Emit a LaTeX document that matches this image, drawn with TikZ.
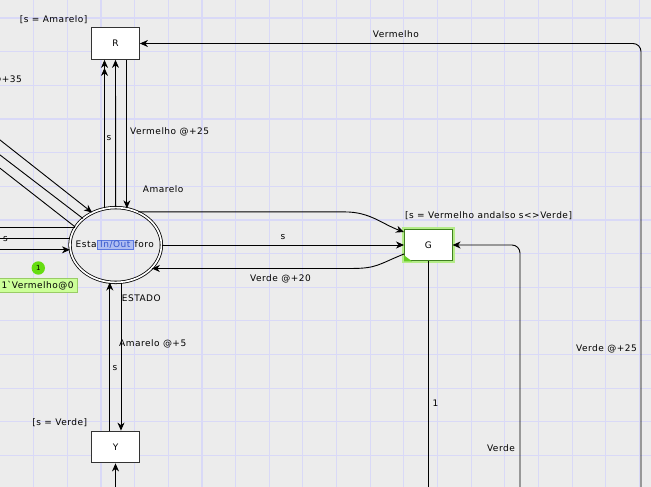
\documentclass[tikz,border=0pt]{standalone}
\usepackage{fontspec}
\setmainfont{DejaVu Sans}[LetterSpace=5.5]
\usetikzlibrary{arrows.meta,shapes.geometric}
\definecolor{bgc}{HTML}{ECECEC}
\definecolor{gridc}{HTML}{D9D9F7}
\definecolor{iofill}{HTML}{AEBDF2}
\definecolor{ioborder}{HTML}{5A78E0}
\definecolor{iotext}{HTML}{3355CC}
\definecolor{tokgreen}{HTML}{66DD11}
\definecolor{markfill}{HTML}{CCFF99}
\definecolor{markborder}{HTML}{99CC66}
\definecolor{gglow}{HTML}{B4EC88}
\definecolor{gdark}{HTML}{3F7F1F}
\definecolor{gcorner}{HTML}{66CC22}
\begin{document}
\begin{tikzpicture}[x=1pt,y=-1pt,font=\fontsize{9}{11}\selectfont,
  trans/.style={draw=black!80,line width=1.2pt,fill=white,minimum width=47.6pt,minimum height=31.6pt,inner sep=0pt},
  place/.style={ellipse,draw=black,line width=0.8pt,double=white,double distance=1.7pt,minimum width=91.4pt,minimum height=74.8pt,inner sep=0pt},
  arc/.style={draw=black,line width=0.9pt},
  arr/.style={-{Stealth[length=8pt,width=7pt,inset=2.5pt]}},
  arrr/.style={-{Stealth[length=8pt,width=7pt,inset=2.5pt]Stealth[length=8pt,width=7pt,inset=2.5pt]}},
  lbl/.style={inner sep=0pt},
  iotag/.style={fill=iofill,draw=ioborder,text=iotext,line width=0.6pt,minimum width=36pt,minimum height=8.6pt,inner sep=0pt},
  gridline/.style={draw=gridc,line width=1.1pt}]
\useasboundingbox (0,0) rectangle (651,487);
\clip (0,0) rectangle (651,487);
\fill[bgc] (0,0) rectangle (651,487);
\foreach \i in {1,...,19} \draw[gridline] (\i*33.66,0) -- (\i*33.66,487);
\foreach \j in {0,...,14} \draw[gridline] (0,18+\j*33.66) -- (651,18+\j*33.66);

% nodes
\node[trans] (R) at (115.5,43.5) {R};
\node[trans] (Y) at (115.5,447) {Y};
\node[trans,draw=gdark,line width=1pt,preaction={draw=gglow,line width=5pt}] (G) at (428.3,245) {G};
\fill[gcorner] (G.south west) -- ++(8,0) -- ++(-8,-6) -- cycle;
\node[place] (E) at (115.7,245) {};
\node[lbl,anchor=base east] (E1) at (96.8,247.7) {Esta};
\node[iotag] (E2) at (115.3,245) {In/Out};
\node[lbl,anchor=base west] (E3) at (134.5,247.7) {foro};

% free ends
\coordinate (L) at (-10,0);
\coordinate (la) at (-10,132.1);
\coordinate (lb) at (-10,147.3);
\coordinate (lc) at (-10,160.4);
\coordinate (rb) at (641,500);
\coordinate (gb) at (428.3,500);
\coordinate (gr) at (520,500);
\coordinate (yb) at (115.5,500);
\coordinate (c1) at (345,0);
\coordinate (c2) at (352,0);

% R arcs
\draw[arc,arrr] (E.107.5) -- (E.107.5 |- R.south);
\draw[arc,arr] (E.north) -- (R.south);
\draw[arc,arr] (E.73 |- R.south) -- (E.73);
\draw[arc,arr,rounded corners=8pt] (rb) |- (R.east);

% G arcs
\draw[arc,arr] (E.east) -- (G.west);
\draw[arc,arr] (E.56.6) -- (E.56.6 -| c1) .. controls +(25,0) and +(-22,-8) .. ([yshift=13pt]G.west);
\draw[arc,arr] ([yshift=-9pt]G.west) .. controls +(-25,10) and +(25,0) .. (E.327.6 -| c2) -- (E.327.6);
\draw[arc] (G.south) -- (G.south |- gb);
\draw[arc,arr,rounded corners=8pt] (gr) |- (G.east);

% Y arcs
\draw[arc,arr] (yb) -- (Y.south);
\draw[arc,arr] (E.261.4 |- Y.north) -- (E.261.4);
\draw[arc,arr] (E.278.6) -- (E.278.6 |- Y.north);

% left arcs
\draw[arc,arr] (la) -- (E.126.2);
\draw[arc] (lb) -- (E.141.7);
\draw[arc] (lc) -- (E.156.6);
\draw[arc] (E.157 -| L) -- (E.157);
\draw[arc] (E.172.4 -| L) -- (E.172.4);
\draw[arc,arr] (E.186.3 -| L) -- (E.186.3);

% marking
\node[circle,fill=tokgreen,minimum size=13.4pt,inner sep=0pt,font=\fontsize{7}{8}\selectfont] (tok) at (38.3,268) {1};
\node[draw=markborder,fill=markfill,line width=0.8pt,anchor=east,minimum width=80pt,inner xsep=1.5pt,inner ysep=2.7pt,text height=7pt,text depth=2pt] (mk) at (78,285.5) {1\textasciigrave Vermelho@0};

% labels
\node[lbl,anchor=base east] (t1) at (87.5,22.3) {[s = Amarelo]};
\node[lbl,anchor=base west] (t2) at (130,135) {Vermelho @+25};
\node[lbl,anchor=base] (t3) at (109,140.5) {s};
\node[lbl,anchor=base east] (t4) at (22,82.7) {@+35};
\node[lbl,anchor=base west] (t5) at (142.7,192.3) {Amarelo};
\node[lbl,anchor=base west] (t6) at (372.7,37.7) {Vermelho};
\node[lbl,anchor=base] (t7) at (283,239) {s};
\node[lbl,anchor=base west] (t8) at (250,281) {Verde @+20};
\node[lbl,anchor=base west] (t9) at (405,218) {[s = Vermelho andalso s<>Verde]};
\node[lbl,anchor=base west] (t10) at (121.7,301.7) {ESTADO};
\node[lbl,anchor=base west] (t11) at (119,346) {Amarelo @+5};
\node[lbl,anchor=base] (t12) at (115,370) {s};
\node[lbl,anchor=base east] (t13) at (87.3,425) {[s = Verde]};
\node[lbl,anchor=base west] (t14) at (432.5,406.7) {1};
\node[lbl,anchor=base east] (t15) at (515,451) {Verde};
\node[lbl,anchor=base west] (t16) at (576,351) {Verde @+25};
\node[lbl,anchor=base] (t17) at (5.5,241.5) {s};
\end{tikzpicture}
\end{document}
